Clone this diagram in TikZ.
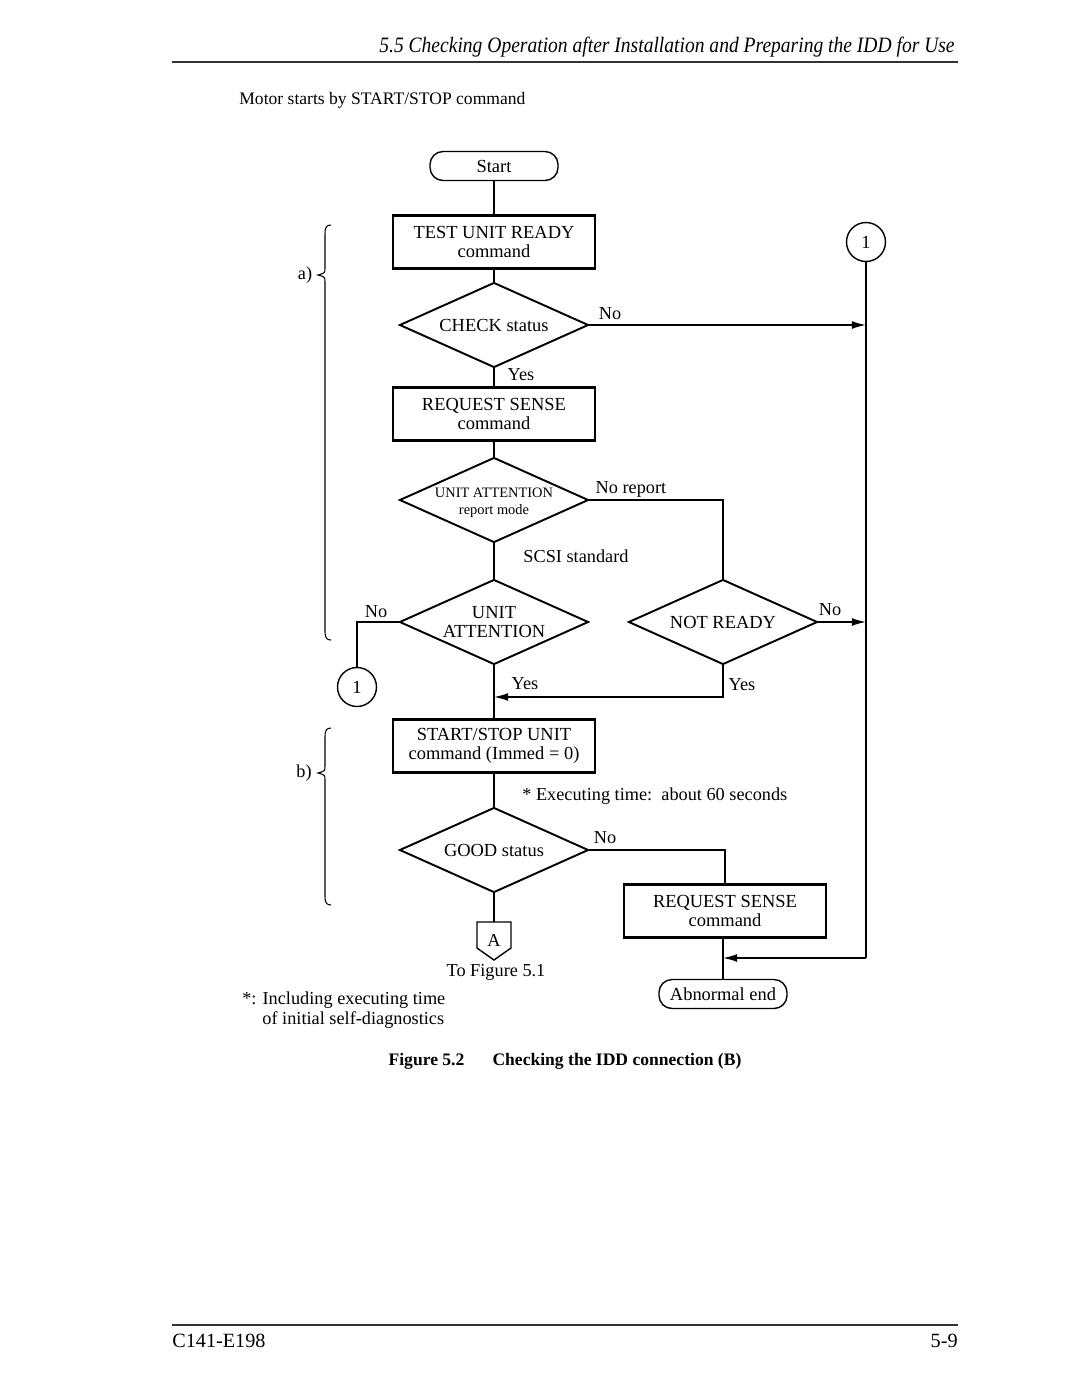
\documentclass[tikz,border=0pt]{standalone}
\usepackage{fontspec}
\setmainfont{Liberation Serif}
\usetikzlibrary{shapes.geometric,arrows.meta}

\begin{document}
\begin{tikzpicture}[x=0.02cm,y=-0.02cm]
			\tikzset{
				mybox/.style={rectangle, draw=black, line width=1.2pt, minimum width=4.04cm, minimum height=1.06cm, align=center, inner sep=0pt, font=\fontsize{10.5}{11}\selectfont},
				mydiamond/.style={diamond, draw=black, line width=1.1pt, aspect=2.2, minimum width=3.78cm, minimum height=1.7cm, inner sep=0pt, align=center, font=\fontsize{10.5}{11}\selectfont},
				myterm/.style={rectangle, rounded corners=0.26cm, draw=black, line width=0.8pt, minimum width=2.56cm, minimum height=0.58cm, inner sep=0pt, font=\fontsize{10.5}{12}\selectfont},
				mycirc/.style={circle, draw=black, line width=0.8pt, minimum size=0.78cm, inner sep=0pt, font=\fontsize{10.5}{12}\selectfont},
				myline/.style={line width=0.6pt},
				myarrow/.style={-{Latex[length=8pt,width=4.5pt]}, line width=0.9pt},
				mylabel/.style={inner sep=0pt, font=\fontsize{10.4}{11}\selectfont},
				myrule/.style={line width=1.4pt, black!80}
			}
			\useasboundingbox (0,0) rectangle (1080,1397);

			% page head and foot
			\node[anchor=east, inner sep=0pt, font=\fontsize{12.5}{14}\selectfont\itshape] (head) at (955,47) {\scalebox{0.89}[1]{5.5 Checking Operation after Installation and Preparing the IDD for Use}};
			\draw[myrule] (172,62) -- (958,62);
			\node[anchor=west, inner sep=0pt, font=\fontsize{10}{12}\selectfont] (motor) at (239,100) {Motor starts by START/STOP command};
			\draw[myrule] (172,1325) -- (958,1325);
			\node[anchor=west, inner sep=0pt, font=\fontsize{11.5}{12}\selectfont] (docno) at (172,1341) {C141-E198};
			\node[anchor=east, inner sep=0pt, font=\fontsize{11.5}{12}\selectfont] (pageno) at (958,1341) {5-9};

			% flow chart
			\node[myterm] (start) at (494,166) {Start};
			\node[mybox] (tur) at (494,242) {TEST UNIT READY\\command};
			\node[mycirc] (c1r) at (866,242) {1};
			\node[mydiamond] (chk) at (494,325) {CHECK status};
			\node[mybox] (rs1) at (494,414) {REQUEST SENSE\\command};
			\node[mydiamond] (uamode) at (494,500) {};
			\node[align=center, inner sep=0pt, font=\fontsize{8.2}{9.5}\selectfont] (uamodetxt) at (494,503) {UNIT ATTENTION\\report mode};
			\node[mydiamond] (ua) at (494,622) {UNIT\\ATTENTION};
			\node[mydiamond] (nr) at (723,622) {NOT READY};
			\node[mycirc] (c1l) at (357,687) {1};
			\node[mybox] (ss) at (494,746) {START/STOP UNIT\\command (Immed = 0)};
			\node[mydiamond] (good) at (494,850) {GOOD status};
			\node[mybox] (rs2) at (725,911) {REQUEST SENSE\\command};
			\node[myterm] (abend) at (723,994) {Abnormal end};

			\coordinate (jy) at (494,697);
			\coordinate (jr) at (866,958);
			\coordinate (atop) at (494,922);

			\draw[myline] (start.south) -- (tur.north);
			\draw[myline] (tur.south) -- (chk.north);
			\draw[myarrow] (chk.east) -- (chk.east -| c1r.south);
			\draw[myline] (chk.south) -- (rs1.north);
			\draw[myline] (rs1.south) -- (uamode.north);
			\draw[myline] (uamode.east) -| (nr.north);
			\draw[myline] (uamode.south) -- (ua.north);
			\draw[myline] (ua.west) -| (c1l.north);
			\draw[myarrow] (nr.east) -- (nr.east -| c1r.south);
			\draw[myarrow] (nr.south) |- (jy);
			\draw[myline] (ua.south) -- (ss.north);
			\draw[myline] (ss.south) -- (good.north);
			\draw[myline] (good.east) -| (rs2.north);
			\draw[myline] (rs2.south -| abend.north) -- (abend.north);
			\draw[myline] (c1r.south) -- (jr);
			\draw[myarrow] (jr) -- (jr -| abend.north);
			\draw[myline] (good.south) -- (atop);

			% off-page connector
			\draw[line width=0.8pt] (477,922) -- (511,922) -- (511,948) -- (494,960) -- (477,948) -- cycle;
			\node[mylabel] (conA) at (494,940) {A};

			% branch labels
			\node[mylabel] at (610,314) {No};
			\node[mylabel] at (521,375) {Yes};
			\node[mylabel] at (631,489) {No report};
			\node[mylabel] at (576,556) {SCSI standard};
			\node[mylabel] at (376,612) {No};
			\node[mylabel] at (830,610) {No};
			\node[mylabel] at (525,684) {Yes};
			\node[mylabel] at (742,685) {Yes};
			\node[mylabel] at (605,838) {No};
			\node[mylabel, anchor=west] at (522,796) {* Executing time:\ \ about 60 seconds};
			\node[mylabel] at (496,972) {To Figure 5.1};
			\node[mylabel, anchor=west, align=left] at (242,1010) {*: Including executing time\\\hspace*{1.1em}of initial self-diagnostics};

			% braces
			\draw[myline] (331,225) .. controls (326,225) and (325,228) .. (325,234) -- (325,268) .. controls (325,273) .. (318,275) .. controls (325,277) .. (325,282) -- (325,632) .. controls (325,638) and (327,640) .. (331,640);
			\node[mylabel] at (305,275) {a)};
			\draw[myline] (331,728) .. controls (326,728) and (325,731) .. (325,737) -- (325,766) .. controls (325,771) .. (318,773) .. controls (325,775) .. (325,780) -- (325,897) .. controls (325,903) and (327,905) .. (331,905);
			\node[mylabel] at (304,773) {b)};

			% caption
			\node[inner sep=0pt, font=\fontsize{10}{12}\selectfont\bfseries] (caption) at (565,1061) {Figure 5.2\hspace{1.6em}Checking the IDD connection (B)};
		\end{tikzpicture}
\end{document}
